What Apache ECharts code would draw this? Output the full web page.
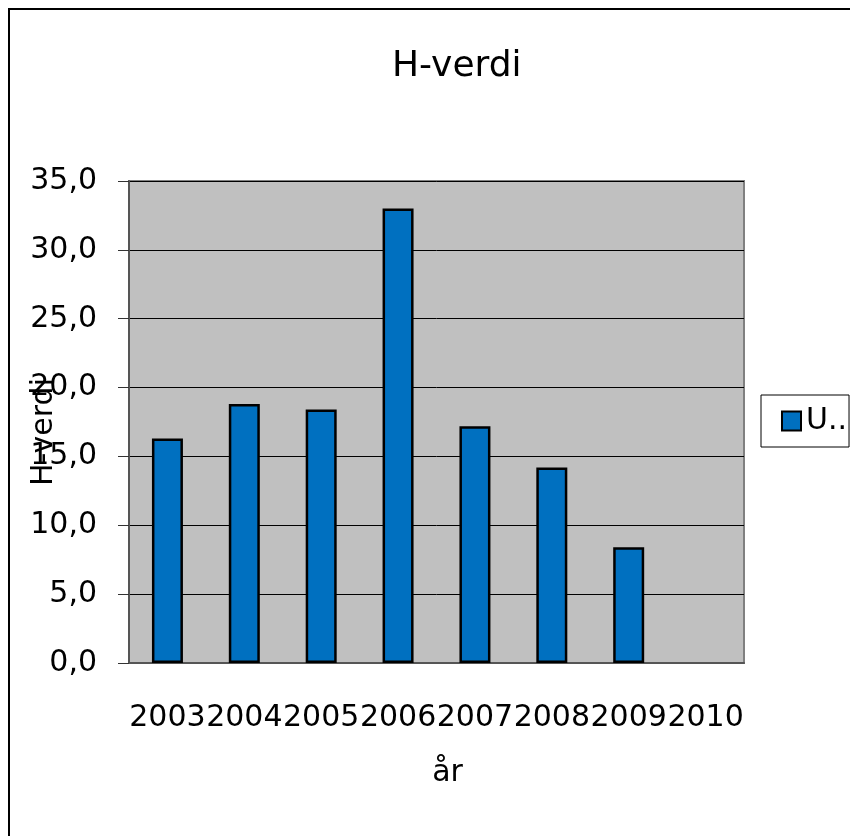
<!DOCTYPE html>
<html>
<head>
<meta charset="utf-8">
<script src="https://cdn.jsdelivr.net/npm/echarts@6/dist/echarts.min.js"></script>
<style>
  html, body { margin: 0; padding: 0; background: #fff; }
  #chart { width: 850px; height: 836px; }
</style>
</head>
<body>
<div id="chart"></div>
<script>
const years = ["2003", "2004", "2005", "2006", "2007", "2008", "2009", "2010"];
const hValues = [16.3, 18.8, 18.4, 33.0, 17.2, 14.2, 8.4, null];
const seriesName = "U..";

const font = "DejaVu Sans";
const chart = echarts.init(document.getElementById("chart"));

const option = {
  animation: false,
  backgroundColor: "#fff",
  graphic: [
    {
      type: "rect",
      shape: { x: 9, y: 9, width: 900, height: 900 },
      style: { fill: "none", stroke: "#000", lineWidth: 2 },
      z: 100,
    },
  ],
  title: {
    text: "H-verdi",
    left: 392,
    top: 49,
    padding: 0,
    textStyle: { fontFamily: font, fontSize: 36, fontWeight: "normal", color: "#000" },
  },
  legend: {
    left: 761,
    top: 395,
    orient: "vertical",
    padding: [11, 2, 11, 20],
    itemWidth: 19,
    itemHeight: 19,
    backgroundColor: "#fff",
    borderColor: "#000",
    borderWidth: 1,
    borderRadius: 0,
    icon: "rect",
    itemStyle: { borderColor: "#000", borderWidth: 2 },
    textStyle: { fontFamily: font, fontSize: 30, color: "#000" },
    data: [seriesName],
  },
  grid: {
    left: 129,
    right: 106,
    top: 181,
    bottom: 173,
    show: true,
    backgroundColor: "#c0c0c0",
    borderColor: "#808080",
    borderWidth: 2,
    containLabel: false,
    outerBoundsMode: "none",
  },
  xAxis: {
    type: "category",
    data: years,
    name: "år",
    nameLocation: "middle",
    nameGap: 95,
    nameMoveOverlap: false,
    nameTextStyle: { fontFamily: font, fontSize: 30, color: "#000", padding: [0, 0, 0, 22] },
    axisLine: { lineStyle: { color: "#555", width: 2 } },
    axisTick: { length: 11, lineStyle: { color: "#333", width: 1 } },
    axisLabel: {
      interval: 0,
      margin: 40,
      fontFamily: font,
      fontSize: 30,
      color: "#000",
    },
  },
  yAxis: {
    type: "value",
    min: 0,
    max: 35,
    interval: 5,
    name: "H-verdi",
    nameLocation: "middle",
    nameGap: 70,
    nameMoveOverlap: false,
    nameTextStyle: { fontFamily: font, fontSize: 30, color: "#000", padding: [0, 20, 0, 0] },
    axisLine: { show: true, lineStyle: { color: "#555", width: 2 } },
    axisTick: { show: true, length: 11, lineStyle: { color: "#333", width: 1 } },
    splitLine: { lineStyle: { color: "#000", width: 1 } },
    axisLabel: {
      margin: 32,
      fontFamily: font,
      fontSize: 30,
      color: "#000",
      formatter: (v) => v.toFixed(1).replace(".", ","),
    },
  },
  series: [
    {
      name: seriesName,
      type: "bar",
      data: hValues,
      barWidth: 31,
      itemStyle: { color: "#0070c0", borderColor: "#000", borderWidth: 2.5 },
    },
  ],
};

chart.setOption(option);
</script>
</body>
</html>
